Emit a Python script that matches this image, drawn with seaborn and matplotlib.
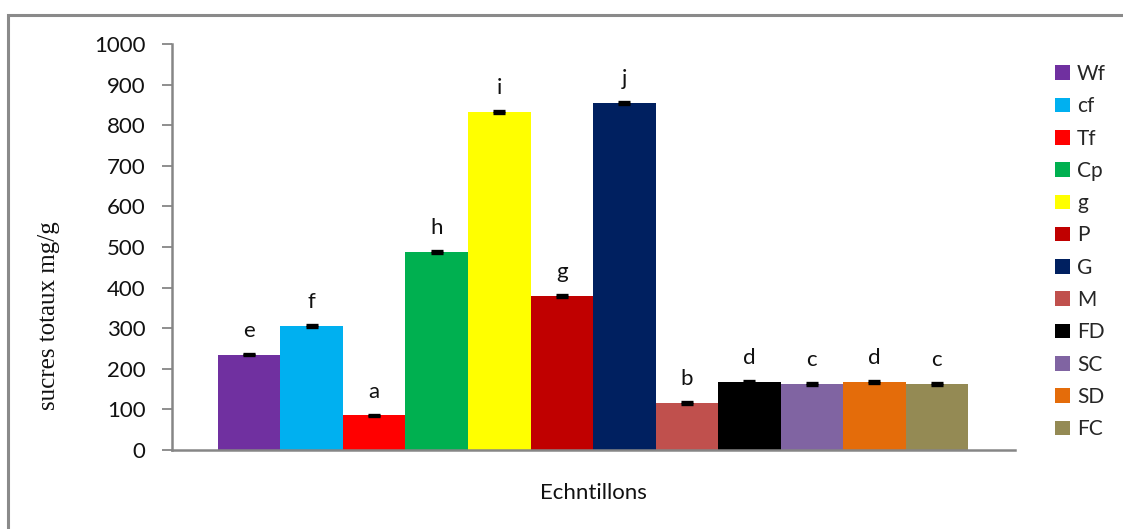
import matplotlib
matplotlib.use("Agg")
import matplotlib.pyplot as plt
from matplotlib.patches import Rectangle
import seaborn as sns
import pandas as pd

# Total sugar content per sample (mg/g), with standard deviation and significance group
samples = ["Wf", "cf", "Tf", "Cp", "g", "P", "G", "M", "FD", "SC", "SD", "FC"]
sugars = [235, 306, 85, 488, 833, 380, 855, 116, 168, 163, 168, 163]
sd = [2, 2, 2, 2, 2, 2, 2, 2, 2, 2, 2, 2]
groups = ["e", "f", "a", "h", "i", "g", "j", "b", "d", "c", "d", "c"]
colors = ["#7030A0", "#00B0F0", "#FF0000", "#00B050", "#FFFF00", "#C00000",
          "#002060", "#C0504D", "#000000", "#8064A2", "#E46C0A", "#948A54"]

df = pd.DataFrame({"cat": ["Echntillons"] * len(samples),
                   "sample": samples, "value": sugars})

sns.set_style("white")
plt.rcParams["font.family"] = ["Lato", "DejaVu Sans"]

fig = plt.figure(figsize=(11.23, 5.29), dpi=100)
ax = fig.add_axes([172 / 1123, 1 - 450 / 529, (1015 - 172) / 1123, (450 - 44) / 529])

sns.barplot(data=df, x="cat", y="value", hue="sample", hue_order=samples,
            palette=colors, saturation=1, errorbar=None, ax=ax, width=0.8,
            linewidth=0, edgecolor="none")

# error bars and group letters on top of each bar
for cont, val, err, lab in zip(ax.containers, sugars, sd, groups):
    bar = cont.patches[0]
    xc = bar.get_x() + bar.get_width() / 2
    ax.errorbar(xc, val, yerr=err, fmt="none", ecolor="black",
                elinewidth=2, capsize=4.3, capthick=2.4, zorder=3)
    ax.bar_label(cont, labels=[lab], padding=10, fontsize=16, color="#111111")

ax.set_xlim(-0.449, 0.450)
ax.set_ylim(0, 1000)
ax.set_yticks(range(0, 1001, 100))
ax.set_xticks([])
ax.set_xlabel("Echntillons", fontsize=16, labelpad=24, color="#111111")
ax.set_ylabel("sucres totaux mg/g", fontsize=18, family="Liberation Serif",
              color="#111111")
ax.yaxis.set_label_coords((60 - 172) / 843, (450 - 315.5) / 406)
ax.tick_params(axis="y", labelsize=16, length=7, width=1.3, color="#868686",
               left=True, pad=12, labelcolor="#111111")

sns.despine(ax=ax)
for side in ("left", "bottom"):
    ax.spines[side].set_color("#868686")
    ax.spines[side].set_linewidth(1.8)

handles, labels = ax.get_legend_handles_labels()
ax.legend(handles, labels, loc="upper left", bbox_to_anchor=(1055 / 1123, 1 - 64 / 529),
          bbox_transform=fig.transFigure, frameon=False, fontsize=15,
          handlelength=0.7, handleheight=0.7, handletextpad=0.35,
          labelspacing=0.59, borderpad=0, borderaxespad=0)

# outer chart frame
fig.patches.append(Rectangle((8 / 1123, -0.1), 1.2, 1 - 15 / 529 + 0.1,
                             transform=fig.transFigure, fill=False,
                             edgecolor="#8a8a8a", linewidth=2.2))

fig.savefig("out.png", dpi=100)
